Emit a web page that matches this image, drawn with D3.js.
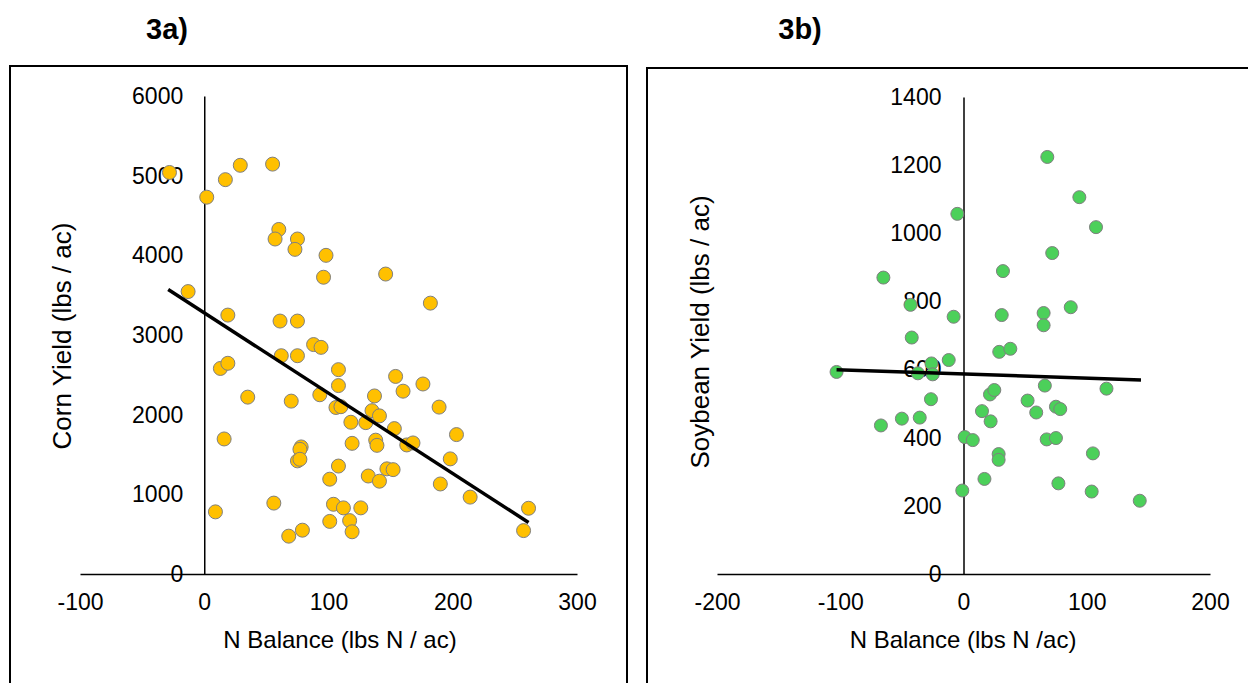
<!DOCTYPE html>
<html>
<head>
<meta charset="utf-8">
<script src="https://cdn.jsdelivr.net/npm/d3@7"></script>
<style>
  html, body { margin: 0; padding: 0; background: #fff; }
  svg { display: block; font-family: "Liberation Sans", Arial, sans-serif; }
</style>
</head>
<body>
<svg id="chart" width="1248" height="683"></svg>
<script>
// ---- Data ----
// 3a) Corn: N balance (lbs N/ac) vs corn yield (lbs/ac)
const cornNBalance = [
  -28, 2, 17, 29, 55, 60, 57, 75, 73, 98, 96, 146, -13, 19, 61, 75,
  88, 94, 62, 75, 108, 108, 154, 160, 13, 19, 35, 70, 93, 106, 110, 137,
  135, 141, 118, 130, 153, 119, 138, 139, 163, 168, 16, 78, 77, 75, 77, 108,
  101, 132, 141, 147, 152, 9, 56, 104, 112, 126, 101, 117, 119, 68, 79, 182,
  176, 189, 203, 198, 190, 214, 261, 257
];
const cornYield = [
  5040, 4730, 4950, 5130, 5145, 4325, 4205, 4205, 4075, 4000, 3725, 3765, 3545, 3250, 3175, 3175,
  2880, 2845, 2740, 2740, 2565, 2365, 2480, 2295, 2580, 2645, 2220, 2170, 2250, 2090, 2100, 2235,
  2050, 1985, 1905, 1900, 1825, 1640, 1680, 1615, 1620, 1645, 1695, 1595, 1565, 1420, 1440, 1355,
  1190, 1230, 1165, 1320, 1310, 780, 890, 875, 830, 830, 660, 670, 530, 475, 550, 3400,
  2385, 2095, 1750, 1445, 1130, 965, 825, 545
];
// Linear trendline (as drawn): start/end x and fitted coefficients
const cornTrendX = [-29, 261];
const cornTrendSlope = -10.08;
const cornTrendIntercept = 3278;

// 3b) Soybean
const soyNBalance = [
  -103, -65, -67, -50, -43, -42, -37, -26, -25, -35.5, -26.4, -12, -8, -5, 1, 7.5,
  -1, 17, 15, 22, 21.5, 25, 28.5, 28.5, 29, 38, 31, 32, 52, 59, 65, 65,
  66, 67.5, 68, 72, 75, 78.5, 75, 77, 87, 94, 104, 105, 107.5, 116, 143
];
const soyYield = [
  593, 870, 436, 456, 790, 694, 589, 618, 586, 459, 513, 628, 755, 1057, 402, 393,
  245, 279, 478, 448, 527, 540, 352, 335, 652, 661, 760, 889, 509, 474, 766, 730,
  553, 395, 1224, 942, 491, 484, 399, 266, 783, 1106, 242, 354, 1018, 544, 215
];
const soyTrendX = [-103, 144];
const soyTrendSlope = -0.12;
const soyTrendIntercept = 587;

// Axis ticks
const cornXTicks = [-100, 0, 100, 200, 300];
const cornYTicks = [0, 1000, 2000, 3000, 4000, 5000, 6000];
const soyXTicks = [-200, -100, 0, 100, 200];
const soyYTicks = [0, 200, 400, 600, 800, 1000, 1200, 1400];

// ---- Drawing ----
const svg = d3.select("#chart");
svg.append("rect").attr("width", 1248).attr("height", 683).attr("fill", "#fff");
const fmt = d => String(d); // plain hyphen-minus, as in the reference

function panel(cfg) {
  const g = svg.append("g");
  g.append("path")
    .attr("d", cfg.border)
    .attr("fill", "none").attr("stroke", "#000").attr("stroke-width", 2);

  const x = d3.scaleLinear().domain(cfg.xDomain).range(cfg.xRange);
  const y = d3.scaleLinear().domain(cfg.yDomain).range(cfg.yRange);

  const xa = g.append("g")
    .attr("transform", `translate(0,${y(0)})`)
    .call(d3.axisBottom(x).tickValues(cfg.xTicks).tickSize(0).tickSizeOuter(0).tickPadding(20).tickFormat(fmt));
  const ya = g.append("g")
    .attr("transform", `translate(${x(0)},0)`)
    .call(d3.axisLeft(y).tickValues(cfg.yTicks).tickSize(0).tickSizeOuter(0).tickPadding(cfg.yPad).tickFormat(fmt));
  [xa, ya].forEach(a => {
    a.select(".domain").attr("stroke", "#000").attr("stroke-width", 1.5);
    a.selectAll("text").attr("font-size", 23).attr("fill", "#000")
      .attr("font-family", "Liberation Sans, Arial, sans-serif");
  });

  g.append("g").selectAll("circle")
    .data(d3.zip(cfg.xs, cfg.ys))
    .join("circle")
    .attr("cx", d => x(d[0]))
    .attr("cy", d => y(d[1]))
    .attr("r", cfg.r)
    .attr("fill", cfg.fill)
    .attr("stroke", "#7f7f7f")
    .attr("stroke-width", 1);

  const tl = cfg.trendX.map(v => [v, cfg.intercept + cfg.slope * v]);
  g.append("path")
    .attr("d", d3.line().x(d => x(d[0])).y(d => y(d[1]))(tl))
    .attr("fill", "none").attr("stroke", "#000").attr("stroke-width", 3.5);

  g.append("text")
    .attr("x", cfg.xTitlePos[0]).attr("y", cfg.xTitlePos[1])
    .attr("text-anchor", "middle").attr("font-size", 24).attr("fill", "#000")
    .text(cfg.xTitle);
  g.append("text")
    .attr("transform", `translate(${cfg.yTitlePos[0]},${cfg.yTitlePos[1]}) rotate(-90)`)
    .attr("text-anchor", "middle").attr("font-size", 26).attr("fill", "#000")
    .text(cfg.yTitle);
  g.append("text")
    .attr("x", cfg.labelPos[0]).attr("y", cfg.labelPos[1])
    .attr("text-anchor", "middle").attr("font-size", 29).attr("font-weight", "bold").attr("fill", "#000")
    .text(cfg.label);
}

panel({
  border: "M10,683 L10,66 L627,66 L627,683",
  xDomain: [-100, 300], xRange: [80, 577],
  yDomain: [0, 6000], yRange: [574, 96],
  xTicks: cornXTicks, yTicks: cornYTicks, yPad: 21,
  xs: cornNBalance, ys: cornYield, r: 7, fill: "#ffc000",
  trendX: cornTrendX, slope: cornTrendSlope, intercept: cornTrendIntercept,
  xTitle: "N Balance (lbs N / ac)", xTitlePos: [340, 648],
  yTitle: "Corn Yield (lbs / ac)", yTitlePos: [71, 336],
  label: "3a)", labelPos: [167, 39],
});

panel({
  border: "M647,683 L647,68 L1250,68",
  xDomain: [-200, 200], xRange: [717, 1210],
  yDomain: [0, 1400], yRange: [574, 97],
  xTicks: soyXTicks, yTicks: soyYTicks, yPad: 22,
  xs: soyNBalance, ys: soyYield, r: 6.5, fill: "#4cd05a",
  trendX: soyTrendX, slope: soyTrendSlope, intercept: soyTrendIntercept,
  xTitle: "N Balance (lbs N /ac)", xTitlePos: [963, 648],
  yTitle: "Soybean Yield (lbs / ac)", yTitlePos: [709, 332],
  label: "3b)", labelPos: [800, 39]
});
</script>
</body>
</html>
